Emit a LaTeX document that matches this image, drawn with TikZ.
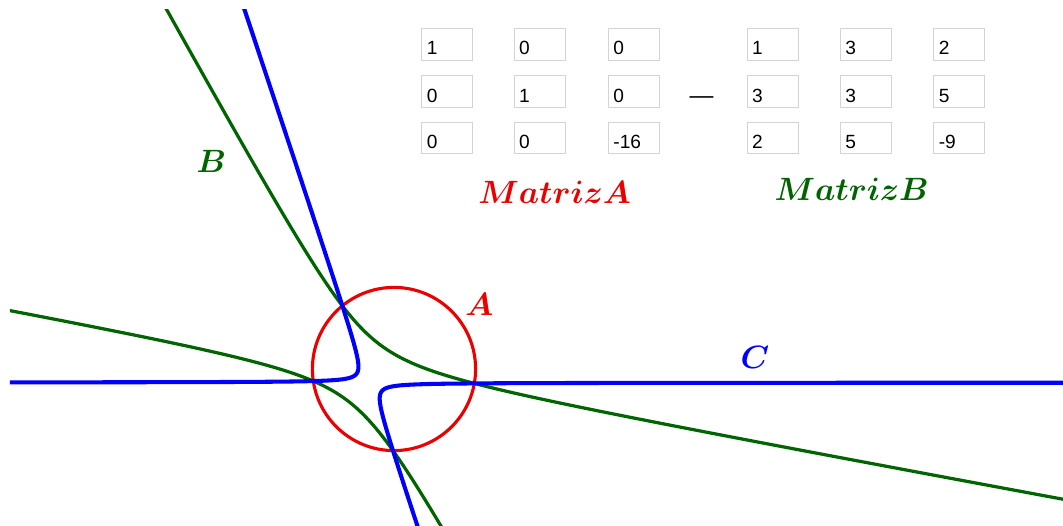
\RequirePackage{fix-cm}
\documentclass[tikz,border=0pt]{standalone}
\usepackage{amsmath, amssymb}
\usepackage{bm}
\usepackage{fontspec}
\newfontfamily\cellfont{Liberation Sans}
\usepackage{tikz}
\usetikzlibrary{calc,positioning}
\definecolor{geogreen}{RGB}{0,100,0}
\definecolor{geored}{RGB}{235,0,0}
\definecolor{geoblue}{RGB}{0,0,255}
\definecolor{cellgray}{RGB}{212,212,212}
\tikzset{
  cell/.style={draw=cellgray, line width=0.4pt, minimum width=0.75cm, minimum height=0.47cm,
    text width=0.6cm, text height=0.386cm, text depth=0.084cm, align=left,
    inner xsep=0.075cm, inner ysep=0pt, font=\cellfont\fontsize{8}{9}\selectfont},
  lbl/.style={inner sep=0pt, font=\fontsize{13.5}{16}\selectfont},
}

\begin{document}
\begin{tikzpicture}[x=0.3cm, y=0.3cm]
            \useasboundingbox (-19.314,-7.696) rectangle (32.794,18.088);
            % Draw the conics inside the view
            \begin{scope}
            \clip (-18.824,-7.696) rectangle (32.794,17.598);
            \draw[geored, line width=1.3pt] (0,0) circle (4);
            \draw[geogreen, line width=1.35pt] plot[smooth, domain=-8:19, samples=300, variable=\t]
                ({(-(6*\t+4)+sqrt(24*\t*\t+8*\t+52))/2}, {\t});
            \draw[geogreen, line width=1.35pt] plot[smooth, domain=-8:19, samples=300, variable=\t]
                ({(-(6*\t+4)-sqrt(24*\t*\t+8*\t+52))/2}, {\t});
            \draw[geoblue, line width=1.7pt] plot[smooth, domain=-3.2:4.8, samples=250, variable=\u]
                ({-(2*((exp(\u)-4)/6)^2+10*((exp(\u)-4)/6)+7)/exp(\u)}, {(exp(\u)-4)/6});
            \draw[geoblue, line width=1.7pt] plot[smooth, domain=-3.6:3.9, samples=250, variable=\u]
                ({(2*((-exp(\u)-4)/6)^2+10*((-exp(\u)-4)/6)+7)/exp(\u)}, {(-exp(\u)-4)/6});
            \end{scope}
            % Draw the cells of the first matrix
            \node[cell] (a11) at (2.608,15.907) {1};
            \node[cell] (a12) at (7.132,15.907) {0};
            \node[cell] (a13) at (11.755,15.907) {0};
            \node[cell] (a21) at (2.608,13.588) {0};
            \node[cell] (a22) at (7.132,13.588) {1};
            \node[cell] (a23) at (11.755,13.588) {0};
            \node[cell] (a31) at (2.608,11.324) {0};
            \node[cell] (a32) at (7.132,11.324) {0};
            \node[cell] (a33) at (11.755,11.324) {-16};
            % Draw the cells of the second matrix
            \node[cell] (b11) at (18.554,15.907) {1};
            \node[cell] (b12) at (23.127,15.907) {3};
            \node[cell] (b13) at (27.706,15.907) {2};
            \node[cell] (b21) at (18.554,13.588) {3};
            \node[cell] (b22) at (23.127,13.588) {3};
            \node[cell] (b23) at (27.706,13.588) {5};
            \node[cell] (b31) at (18.554,11.324) {2};
            \node[cell] (b32) at (23.127,11.324) {5};
            \node[cell] (b33) at (27.706,11.324) {-9};
            \node[inner sep=0pt, font=\cellfont\fontsize{10}{12}\selectfont] (minus) at (15.074,13.2) {—};
            % Draw the labels
            \node[lbl, text=geored] (matA) at (7.877,8.652) {$\bm{MatrizA}$};
            \node[lbl, text=geogreen] (matB) at (22.436,8.824) {$\bm{MatrizB}$};
            \node[lbl, text=geogreen] (labB) at (-8.946,10.172) {$\bm{B}$};
            \node[lbl, text=geored] (labA) at (4.191,3.186) {$\bm{A}$};
            \node[lbl, text=geoblue] (labC) at (17.696,0.588) {$\bm{C}$};
        \end{tikzpicture}
\end{document}
